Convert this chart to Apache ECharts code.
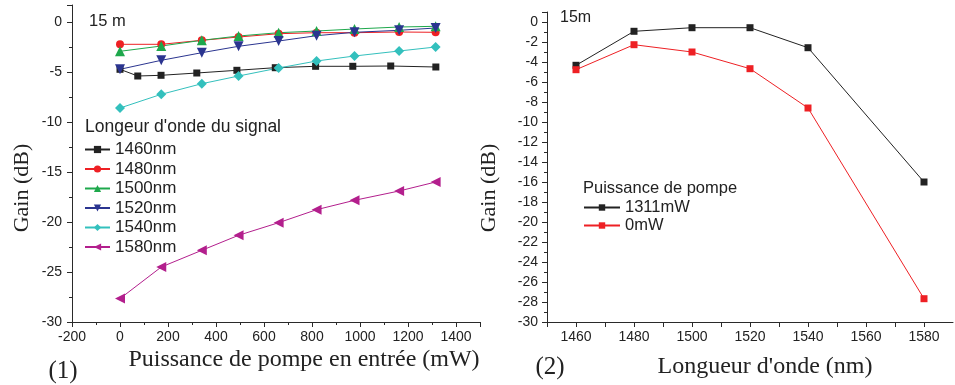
<!DOCTYPE html>
<html>
<head>
<meta charset="utf-8">
<script src="https://cdn.jsdelivr.net/npm/echarts@6/dist/echarts.min.js"></script>
<style>
html,body{margin:0;padding:0;background:#fff;}
#chart{width:955px;height:385px;}
</style>
</head>
<body>
<div id="chart"></div>
<script>
// ---- Data: panel (1) gain vs pump power ----
const xPump1460 = [0, 74, 171, 320, 487, 647, 815, 970, 1128, 1316];
const gain1460 = [-4.73, -5.4, -5.33, -5.1, -4.83, -4.57, -4.43, -4.43, -4.4, -4.5];
const xPump = [0, 172, 341, 494, 661, 819, 977, 1163, 1315];
const gain1480 = [-2.23, -2.23, -1.83, -1.5, -1.17, -1.07, -1.07, -1.0, -1.03];
const gain1500 = [-2.93, -2.4, -1.83, -1.4, -1.07, -0.9, -0.7, -0.5, -0.43];
const gain1520 = [-4.73, -3.83, -3.07, -2.43, -1.9, -1.37, -1.03, -0.83, -0.6];
const gain1540 = [-8.6, -7.23, -6.17, -5.4, -4.6, -3.9, -3.4, -2.9, -2.5];
const gain1580 = [-27.66, -24.5, -22.83, -21.33, -20.07, -18.77, -17.83, -16.9, -16.0];
const signalNames = ['1460nm', '1480nm', '1500nm', '1520nm', '1540nm', '1580nm'];

// ---- Data: panel (2) gain vs wavelength ----
const wavelengths = [1460, 1480, 1500, 1520, 1540, 1580];
const gainPump1311 = [-4.33, -0.93, -0.57, -0.57, -2.57, -16.0];
const gainPump0 = [-4.77, -2.27, -3.0, -4.67, -8.6, -27.67];
const pumpNames = ['1311mW', '0mW'];

const zip = (xs, ys) => xs.map((x, i) => [x, ys[i]]);

const SANS = 'Liberation Sans, Arial, sans-serif';
const SERIF = 'Liberation Serif, Times New Roman, serif';
const AX = '#2a2a2a';

function axisCommon() {
  return {
    axisLine: { show: true, onZero: false, lineStyle: { color: AX, width: 1 } },
    axisTick: { show: true, inside: false, length: 5, lineStyle: { color: AX, width: 1 } },
    splitLine: { show: false },
    axisLabel: { color: '#222', fontFamily: SANS, fontSize: 14, formatter: v => String(v) }
  };
}

const chart = echarts.init(document.getElementById('chart'), null, { renderer: 'canvas' });

function lineSeries(name, data, color, symbol, size, rot, xi, yi) {
  return {
    name, type: 'line', xAxisIndex: xi, yAxisIndex: yi, data,
    symbol, symbolSize: size, symbolRotate: rot || 0,
    showSymbol: true, animation: false,
    lineStyle: { color, width: 1 },
    itemStyle: { color, borderColor: color, borderWidth: 0 }
  };
}

const x0 = axisCommon(), x1 = axisCommon(), y0 = axisCommon(), y1 = axisCommon();

const option = {
  animation: false,
  backgroundColor: '#fff',
  grid: [
    { left: 72, right: 475, top: 5, bottom: 63 },
    { left: 547, right: 2, top: 12, bottom: 63 }
  ],
  xAxis: [
    Object.assign(x0, {
      type: 'value', gridIndex: 0, min: -200, max: 1500, interval: 200,
      minorTick: { show: true, splitNumber: 2, length: 3, lineStyle: { color: AX } },
      axisLabel: Object.assign(x0.axisLabel, { margin: 8, showMaxLabel: false })
    }),
    Object.assign(x1, {
      type: 'value', gridIndex: 1, min: 1450, max: 1590, interval: 10,
      axisLabel: Object.assign(x1.axisLabel, {
        margin: 8, showMaxLabel: false,
        formatter: v => (v % 20 === 0 ? String(v) : '')
      })
    })
  ],
  yAxis: [
    Object.assign(y0, {
      type: 'value', gridIndex: 0, min: -30, max: 1.7, interval: 5,
      minorTick: { show: true, splitNumber: 2, length: 3, lineStyle: { color: AX } },
      axisLabel: Object.assign(y0.axisLabel, { margin: 10, showMaxLabel: false })
    }),
    Object.assign(y1, {
      type: 'value', gridIndex: 1, min: -30, max: 1, interval: 2,
      minorTick: { show: true, splitNumber: 2, length: 3, lineStyle: { color: AX } },
      axisLabel: Object.assign(y1.axisLabel, { margin: 9, showMaxLabel: false })
    })
  ],
  legend: [
    {
      orient: 'vertical', left: 84, top: 141, padding: 0, itemWidth: 25, itemHeight: 9, itemGap: 2.5,
      data: signalNames, selectedMode: false,
      textStyle: { fontFamily: SANS, fontSize: 17, color: '#222', lineHeight: 17 }
    },
    {
      orient: 'vertical', left: 583, top: 199, padding: 0, itemWidth: 36, itemHeight: 8, itemGap: 1,
      data: pumpNames, selectedMode: false,
      textStyle: { fontFamily: SANS, fontSize: 16.5, color: '#222', lineHeight: 16.5 }
    }
  ],
  series: [
    lineSeries('1460nm', zip(xPump1460, gain1460), '#222222', 'rect', 7, 0, 0, 0),
    lineSeries('1480nm', zip(xPump, gain1480), '#ee2024', 'circle', 8, 0, 0, 0),
    lineSeries('1500nm', zip(xPump, gain1500), '#1ea84c', 'triangle', 10, 0, 0, 0),
    lineSeries('1520nm', zip(xPump, gain1520), '#2b3590', 'triangle', 10, 180, 0, 0),
    lineSeries('1540nm', zip(xPump, gain1540), '#33c0bd', 'diamond', 10, 0, 0, 0),
    lineSeries('1580nm', zip(xPump, gain1580), '#b31f8d', 'triangle', 10, 90, 0, 0),
    lineSeries('1311mW', zip(wavelengths, gainPump1311), '#222222', 'rect', 7, 0, 1, 1),
    lineSeries('0mW', zip(wavelengths, gainPump0), '#ee2024', 'rect', 7, 0, 1, 1)
  ],
  graphic: [
    { type: 'text', x: 89, y: 21, style: { text: '15 m', font: '16.5px ' + SANS, fill: '#222', textVerticalAlign: 'middle' } },
    { type: 'text', x: 560, y: 18, style: { text: '15m', font: '16px ' + SANS, fill: '#222', textVerticalAlign: 'middle' } },
    { type: 'text', x: 85, y: 127, style: { text: "Longeur d'onde du signal", font: '17.5px ' + SANS, fill: '#222', textVerticalAlign: 'middle' } },
    { type: 'text', x: 583, y: 188, style: { text: 'Puissance de pompe', font: '16.5px ' + SANS, fill: '#222', textVerticalAlign: 'middle' } },
    { type: 'text', x: 22, y: 188, rotation: Math.PI / 2,
      style: { text: 'Gain (dB)', font: '22px ' + SERIF, fill: '#222', textAlign: 'center', textVerticalAlign: 'middle' } },
    { type: 'text', x: 489, y: 188, rotation: Math.PI / 2,
      style: { text: 'Gain (dB)', font: '22px ' + SERIF, fill: '#222', textAlign: 'center', textVerticalAlign: 'middle' } },
    { type: 'text', x: 304, y: 360,
      style: { text: 'Puissance de pompe en entrée (mW)', font: '24px ' + SERIF, fill: '#222', textAlign: 'center', textVerticalAlign: 'middle' } },
    { type: 'text', x: 63, y: 371,
      style: { text: '(1)', font: '25px ' + SERIF, fill: '#222', textAlign: 'center', textVerticalAlign: 'middle' } },
    { type: 'text', x: 765, y: 367,
      style: { text: "Longueur d'onde (nm)", font: '24px ' + SERIF, fill: '#222', textAlign: 'center', textVerticalAlign: 'middle' } },
    { type: 'text', x: 550, y: 367,
      style: { text: '(2)', font: '25px ' + SERIF, fill: '#222', textAlign: 'center', textVerticalAlign: 'middle' } }
  ]
};
chart.setOption(option);
</script>
</body>
</html>
